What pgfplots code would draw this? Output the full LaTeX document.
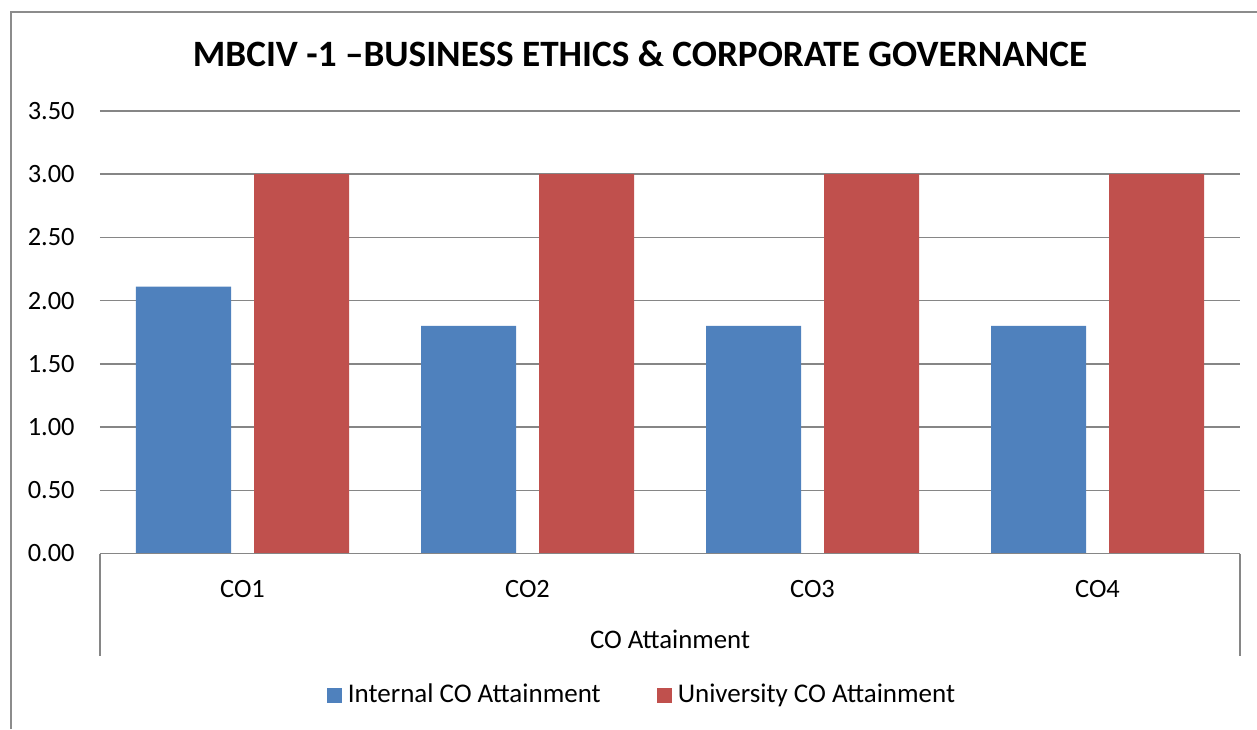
\documentclass[border=0pt]{standalone}
\usepackage{pgfplots}
\pgfplotsset{compat=1.18}
\usepackage{fontspec}
\setmainfont{Carlito}
\definecolor{cblue}{HTML}{4F81BD}
\definecolor{cred}{HTML}{C0504D}
\definecolor{cgrid}{HTML}{868686}
\definecolor{cborder}{HTML}{8C8C8C}
\begin{document}
\begin{tikzpicture}
\useasboundingbox (0,0) rectangle (628.5pt,364.5pt);
\draw[cborder,line width=0.8pt] (5.5pt,0) -- (5.5pt,358.5pt) -- (628.5pt,358.5pt);
\node[anchor=base,font=\fontsize{18.6}{21}\selectfont\bfseries,inner sep=0pt] at (320pt,331.15pt) {MBCIV -1 –BUSINESS ETHICS \& CORPORATE GOVERNANCE};
\begin{axis}[
  at={(50pt,87.75pt)}, anchor=south west,
  scale only axis, width=570pt, height=221.25pt,
  xmin=-0.5, xmax=3.5, ymin=0, ymax=3.5,
  ytick={0,0.5,...,3.5},
  xtick={0,1,2,3}, xticklabels={CO1,CO2,CO3,CO4},
  major tick length=0pt,
  axis line style={draw=none},
  ymajorgrids, grid style={cgrid,line width=0.75pt},
  /pgf/number format/.cd, fixed, fixed zerofill, precision=2, assume math mode=true, /pgfplots/.cd,
  ticklabel style={font=\fontsize{13.2}{15}\selectfont},
  yticklabel style={anchor=east,inner sep=0pt,xshift=-12.5pt},
  xticklabel style={anchor=base,inner sep=0pt,yshift=-21.9pt},
  ybar=11.5pt, bar width=47.5pt,
  xlabel={CO Attainment},
  xlabel style={at={(axis description cs:0.5,0)},anchor=base,inner sep=0pt,yshift=-47.25pt,font=\fontsize{13.4}{15}\selectfont},
  legend columns=2,
  legend style={at={(axis description cs:0.5,0)},anchor=center,xshift=-13.5pt,yshift=-70.75pt,draw=none,font=\fontsize{13.5}{15}\selectfont,inner sep=0pt,
    /tikz/every odd column/.append style={column sep=1pt},
    /tikz/every even column/.append style={column sep=26pt}},
  legend image code/.code={\draw[#1,draw=none] (0pt,-3.75pt) rectangle (7.5pt,3.75pt);},
  clip=false,
]
\addplot[fill=cblue,draw=none] coordinates {(0,2.11) (1,1.80) (2,1.80) (3,1.80)};
\addplot[fill=cred,draw=none] coordinates {(0,3.00) (1,3.00) (2,3.00) (3,3.00)};
\legend{Internal CO Attainment, University CO Attainment}
\draw[cgrid,line width=0.75pt] (rel axis cs:0,0) -- ([yshift=-51.25pt]rel axis cs:0,0);
\draw[cgrid,line width=0.75pt] (rel axis cs:1,0) -- ([yshift=-51.25pt]rel axis cs:1,0);
\draw[cgrid,line width=0.75pt] (rel axis cs:0,0) -- (rel axis cs:1,0);
\end{axis}
\end{tikzpicture}
\end{document}
